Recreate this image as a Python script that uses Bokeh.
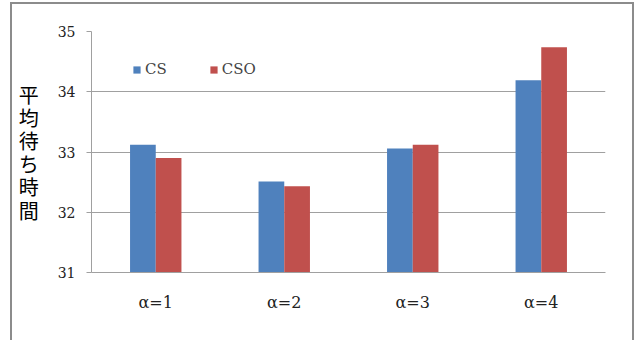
from bokeh.plotting import figure
from bokeh.models import ColumnDataSource, FactorRange, Legend, LegendItem, FixedTicker
from bokeh.transform import dodge
from bokeh.embed import file_html
from bokeh.resources import INLINE

categories = ["α=1", "α=2", "α=3", "α=4"]
cs_values = [33.12, 32.51, 33.06, 34.19]
cso_values = [32.90, 32.43, 33.12, 34.74]
y_ticks = [31, 32, 33, 34, 35]
series_names = ["CS", "CSO"]
y_title = "平均待ち時間"

src = ColumnDataSource(dict(cat=categories, cs=cs_values, cso=cso_values))

SERIF = "DejaVu Serif"

p = figure(x_range=FactorRange(*categories, range_padding=0), y_range=(31, 35),
           width=624, height=338, output_backend="svg", toolbar_location=None,
           min_border_left=79, min_border_right=31, min_border_top=27, min_border_bottom=70)
p.styles = {"margin-left": "10px", "margin-top": "2px",
            "border-left": "2px solid #8c8c8c", "border-top": "2px solid #8c8c8c",
            "border-right": "2px solid #8c8c8c"}

r1 = p.vbar(x=dodge("cat", -0.1, range=p.x_range), top="cs", bottom=31, width=0.2,
            source=src, fill_color="#4F81BD", line_color=None)
r2 = p.vbar(x=dodge("cat", 0.1, range=p.x_range), top="cso", bottom=31, width=0.2,
            source=src, fill_color="#C0504D", line_color=None)

p.outline_line_color = None
p.xgrid.grid_line_color = None
p.ygrid.grid_line_color = "#a0a0a0"
p.ygrid.grid_line_width = 1
p.yaxis.ticker = FixedTicker(ticks=y_ticks)
p.yaxis.minor_tick_line_color = None
p.yaxis.major_tick_out = 5
p.yaxis.major_tick_in = 0
p.yaxis.major_tick_line_color = "#a0a0a0"
p.yaxis.axis_line_color = "#a0a0a0"
p.yaxis.major_label_standoff = 11
p.yaxis.major_label_text_font = SERIF
p.yaxis.major_label_text_font_size = "14px"
p.yaxis.major_label_text_color = "#222222"
p.yaxis.axis_label = "\n".join(y_title)
p.yaxis.axis_label_orientation = "horizontal"
p.yaxis.axis_label_text_font = "Noto Sans CJK JP"
p.yaxis.axis_label_text_font_style = "normal"
p.yaxis.axis_label_text_font_size = "20px"
p.yaxis.axis_label_text_line_height = 0.8
p.yaxis.axis_label_text_color = "#000000"
p.yaxis.axis_label_standoff = 16

p.xaxis.major_tick_line_color = None
p.xaxis.axis_line_color = "#a0a0a0"
p.xaxis.major_label_standoff = 14
p.xaxis.major_label_text_font = SERIF
p.xaxis.major_label_text_font_size = "16px"
p.xaxis.major_label_text_color = "#222222"

legend = Legend(items=[LegendItem(label=series_names[0], renderers=[r1]),
                       LegendItem(label=series_names[1], renderers=[r2])],
                orientation="horizontal", location=(41, 194),
                glyph_width=9, glyph_height=9, label_standoff=4, spacing=42,
                border_line_color=None, background_fill_alpha=0,
                label_text_font=SERIF, label_text_font_size="15px",
                padding=0, margin=0)
p.add_layout(legend)

open("out.html", "w").write(file_html(p, INLINE))
